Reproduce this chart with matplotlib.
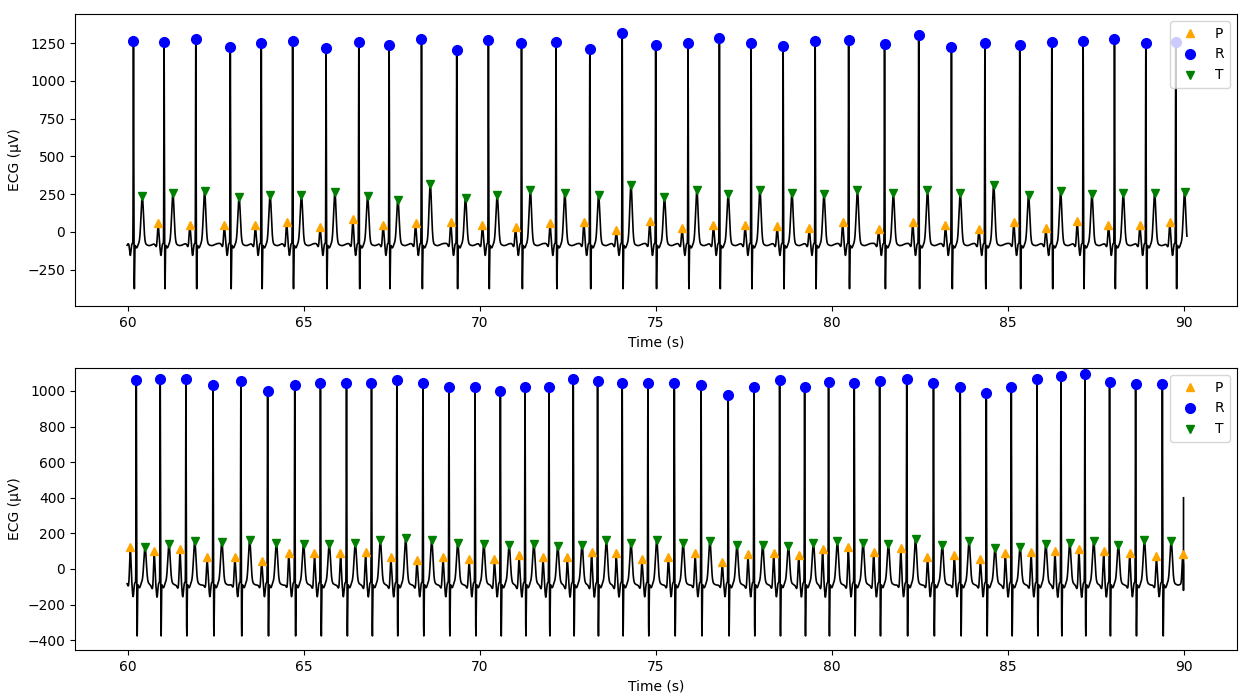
import numpy as np
import matplotlib.pyplot as plt

# top record: R peak times (s) and amplitudes (uV), P / T amplitudes
r_time_a = [60.16, 61.03, 61.93, 62.91, 63.79, 64.68, 65.63, 66.56, 67.42, 68.34, 69.34,
            70.24, 71.18, 72.16, 73.12, 74.04, 74.99, 75.91, 76.80, 77.70, 78.61, 79.52,
            80.47, 81.49, 82.46, 83.39, 84.34, 85.33, 86.24, 87.13, 88.02, 88.91, 89.76]
r_amp_a = [1264, 1260, 1280, 1225, 1249, 1264, 1220, 1260, 1238, 1280, 1205, 1271, 1253,
           1260, 1211, 1317, 1238, 1253, 1286, 1249, 1231, 1264, 1271, 1242, 1302, 1225,
           1253, 1238, 1260, 1264, 1280, 1249, 1260]
t_amp_a = [236, 255, 269, 229, 247, 247, 262, 236, 214, 317, 225, 242, 280, 255, 242, 311,
           231, 277, 251, 280, 258, 251, 277, 258, 277, 258, 311, 242, 269, 251, 258, 258, 264]
# no P detected before the first beat
p_amp_a = [57, 48, 44, 44, 66, 33, 88, 48, 57, 66, 48, 33, 57, 66, 13, 75,
           26, 48, 48, 37, 26, 66, 20, 66, 44, 20, 66, 26, 75, 44, 44, 66]

# bottom record
r_time_b = [60.24, 60.92, 61.65, 62.42, 63.21, 63.97, 64.74, 65.47, 66.21, 66.92, 67.64,
            68.38, 69.12, 69.86, 70.58, 71.28, 71.96, 72.65, 73.34, 74.04, 74.77, 75.52,
            76.28, 77.05, 77.78, 78.51, 79.22, 79.90, 80.63, 81.35, 82.12, 82.88, 83.64,
            84.38, 85.09, 85.82, 86.50, 87.18, 87.88, 88.62, 89.38]
r_amp_b = [1059, 1069, 1065, 1031, 1055, 999, 1031, 1046, 1046, 1046, 1059, 1046, 1025,
           1025, 999, 1025, 1025, 1065, 1055, 1046, 1046, 1046, 1035, 977, 1020, 1059,
           1025, 1050, 1046, 1055, 1065, 1046, 1020, 986, 1020, 1065, 1083, 1093, 1050,
           1040, 1040]
t_amp_b = [122, 139, 157, 154, 163, 148, 139, 142, 148, 163, 172, 163, 148, 139, 133, 142,
           127, 137, 163, 144, 163, 146, 159, 133, 135, 131, 148, 157, 148, 139, 169, 137,
           157, 116, 122, 142, 146, 159, 137, 161, 159]
# one extra P after the last beat
p_amp_b = [122, 103, 114, 66, 69, 47, 88, 88, 88, 94, 66, 51, 69, 56, 56, 79, 69, 69, 94,
           88, 56, 69, 88, 41, 82, 92, 77, 111, 122, 97, 116, 69, 81, 56, 88, 97, 103, 114,
           99, 92, 73, 82]
p_last_b = 89.96

# beat shape: offset from R (s), width (s), fixed level (uV); P/R/T use the amplitudes above
P_OFF, T_OFF = -0.17, 0.25
BASE = -75
waves = [(-0.215, 0.03, -25), (-0.09, 0.02, -80), (0.025, 0.008, -300), (0.09, 0.03, -30),
         (0.45, 0.08, -15)]

fs = 500


def build(r_time, r_amp, p_time, p_amp, t_amp, t_end):
    t = np.arange(59.98, t_end, 1 / fs)
    y = np.full_like(t, BASE, dtype=float)
    for rt, ra, ta in zip(r_time, r_amp, t_amp):
        y += (ra - BASE) * np.exp(-0.5 * ((t - rt) / 0.006) ** 2)
        y += (ta - BASE) * np.exp(-0.5 * ((t - rt - T_OFF) / 0.035) ** 2)
        for off, w, lev in waves:
            y += lev * np.exp(-0.5 * ((t - rt - off) / w) ** 2)
    for pt, pa in zip(p_time, p_amp):
        y += (pa - BASE) * np.exp(-0.5 * ((t - pt) / 0.02) ** 2)
    return t, y


p_time_a = [r + P_OFF for r in r_time_a[1:]]
p_time_b = [r + P_OFF for r in r_time_b] + [p_last_b]
t_time_a = [r + T_OFF for r in r_time_a]
t_time_b = [r + T_OFF for r in r_time_b]

ta, ya = build(r_time_a, r_amp_a, p_time_a, p_amp_a, t_amp_a, 90.08)
tb, yb = build(r_time_b, r_amp_b, p_time_b, p_amp_b, t_amp_b, 89.98)
tb = np.append(tb, [89.98, 89.981])
yb = np.append(yb, [-120, 400])

fig = plt.figure(figsize=(12.48, 7), dpi=100)
ax1 = fig.add_axes([75 / 1248, 1 - 306 / 700, 1162 / 1248, 292 / 700])
ax2 = fig.add_axes([75 / 1248, 1 - 650 / 700, 1162 / 1248, 282 / 700])

panels = [(ax1, ta, ya, p_time_a, p_amp_a, r_time_a, r_amp_a, t_time_a, t_amp_a, (-490, 1443)),
          (ax2, tb, yb, p_time_b, p_amp_b, r_time_b, r_amp_b, t_time_b, t_amp_b, (-455, 1129))]
for ax, t, y, pt, pa, rt, ra, tt, tam, ylim in panels:
    ax.plot(t, y, color='black', lw=1.2)
    ax.plot(pt, pa, '^', color='orange', ms=6, ls='none', label='P')
    ax.plot(rt, ra, 'o', color='blue', ms=7, ls='none', label='R')
    ax.plot(tt, tam, 'v', color='green', ms=6, ls='none', label='T')
    ax.set_xlim(58.5, 91.5)
    ax.set_ylim(*ylim)
    ax.set_xlabel('Time (s)')
    ax.set_ylabel('ECG (µV)')
    ax.legend(loc='upper right')

fig.savefig('out.png', dpi=100)
